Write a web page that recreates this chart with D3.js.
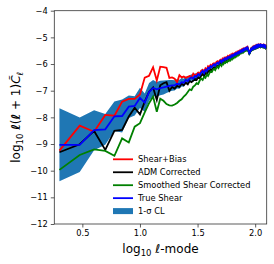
<!DOCTYPE html>
<html>
<head>
<meta charset="utf-8">
<script src="https://cdn.jsdelivr.net/npm/d3@7"></script>
<style>
  body { margin: 0; background: #fff; }
  text { font-family: "DejaVu Sans", sans-serif; fill: #000; }
</style>
</head>
<body>
<div id="chart"></div>
<script>
// multipoles l = 2 .. 126
const ells = d3.range(2, 127);

const shearBias = [
  -9.25, -8.31, -8.54, -7.91, -7.94, -7.41, -7.31, -7.31, -7.14, -6.51,
  -6.44, -6.12, -6.62, -6.10, -6.12, -6.14, -6.52, -6.50, -6.55, -6.68,
  -6.42, -6.50, -6.47, -6.52, -6.48, -6.45, -6.50, -6.36, -6.44, -6.38,
  -6.32, -6.36, -6.25, -6.22, -6.28, -6.16, -6.21, -6.08, -6.12, -6.03,
  -6.07, -5.99, -5.97, -6.01, -5.93, -5.90, -5.95, -5.87, -5.84, -5.88,
  -5.80, -5.84, -5.76, -5.79, -5.74, -5.77, -5.70, -5.73, -5.68, -5.71,
  -5.64, -5.68, -5.62, -5.65, -5.60, -5.62, -5.57, -5.60, -5.54, -5.57,
  -5.52, -5.55, -5.49, -5.52, -5.46, -5.49, -5.44, -5.47, -5.42, -5.44,
  -5.40, -5.43, -5.38, -5.41, -5.37, -5.44, -5.52, -5.58, -5.55, -5.48,
  -5.42, -5.44, -5.39, -5.41, -5.36, -5.39, -5.34, -5.37, -5.33, -5.36,
  -5.31, -5.34, -5.30, -5.33, -5.29, -5.32, -5.28, -5.31, -5.29, -5.32,
  -5.28, -5.31, -5.29, -5.32, -5.30, -5.33, -5.29, -5.32, -5.30, -5.34,
  -5.32, -5.36, -5.33, -5.37, -5.39
];

const admCorrected = [
  -9.31, -9.01, -8.51, -9.22, -8.51, -8.47, -7.97, -7.64, -7.89, -7.41,
  -7.04, -6.88, -7.35, -6.80, -6.72, -6.68, -7.00, -6.86, -6.92, -6.82,
  -6.86, -6.74, -6.80, -6.70, -6.76, -6.64, -6.68, -6.62, -6.56, -6.60,
  -6.50, -6.54, -6.44, -6.38, -6.46, -6.34, -6.38, -6.26, -6.29, -6.20,
  -6.23, -6.16, -6.12, -6.17, -6.09, -6.06, -6.10, -6.02, -5.98, -6.03,
  -5.95, -5.97, -5.89, -5.93, -5.87, -5.89, -5.82, -5.85, -5.79, -5.82,
  -5.74, -5.78, -5.72, -5.74, -5.68, -5.71, -5.65, -5.68, -5.62, -5.64,
  -5.59, -5.62, -5.56, -5.58, -5.52, -5.55, -5.50, -5.53, -5.47, -5.50,
  -5.45, -5.48, -5.43, -5.46, -5.42, -5.48, -5.56, -5.62, -5.59, -5.52,
  -5.46, -5.48, -5.43, -5.45, -5.40, -5.43, -5.38, -5.41, -5.37, -5.40,
  -5.35, -5.38, -5.33, -5.36, -5.32, -5.35, -5.31, -5.34, -5.32, -5.35,
  -5.31, -5.34, -5.32, -5.35, -5.33, -5.36, -5.32, -5.35, -5.33, -5.37,
  -5.35, -5.39, -5.36, -5.40, -5.42
];

const smoothedCorrected = [
  -9.97, -9.41, -9.20, -9.26, -9.44, -8.79, -8.94, -8.35, -8.22, -7.81,
  -7.47, -7.22, -7.79, -7.30, -7.38, -7.50, -7.55, -7.56, -7.52, -7.46,
  -7.38, -7.32, -7.22, -7.15, -7.05, -6.95, -6.98, -6.85, -6.80, -6.72,
  -6.75, -6.62, -6.55, -6.60, -6.48, -6.52, -6.40, -6.45, -6.35, -6.28,
  -6.30, -6.22, -6.18, -6.23, -6.14, -6.10, -6.15, -6.06, -6.02, -6.07,
  -5.98, -6.01, -5.93, -5.96, -5.90, -5.93, -5.86, -5.89, -5.83, -5.86,
  -5.78, -5.82, -5.75, -5.78, -5.71, -5.74, -5.68, -5.71, -5.64, -5.67,
  -5.61, -5.64, -5.58, -5.60, -5.54, -5.57, -5.52, -5.55, -5.48, -5.51,
  -5.46, -5.49, -5.44, -5.47, -5.42, -5.48, -5.56, -5.62, -5.59, -5.52,
  -5.46, -5.48, -5.43, -5.45, -5.40, -5.43, -5.38, -5.41, -5.37, -5.40,
  -5.35, -5.38, -5.33, -5.36, -5.32, -5.35, -5.31, -5.34, -5.32, -5.35,
  -5.31, -5.34, -5.32, -5.35, -5.33, -5.36, -5.32, -5.35, -5.33, -5.37,
  -5.35, -5.39, -5.36, -5.40, -5.42
];

const trueShear = [
  -9.03, -9.03, -8.48, -8.45, -7.96, -7.95, -7.60, -7.57, -7.27, -7.45,
  -7.05, -6.90, -6.95, -6.90, -6.88, -6.85, -6.82, -6.80, -6.80, -6.74,
  -6.76, -6.68, -6.70, -6.60, -6.64, -6.55, -6.50, -6.55, -6.45, -6.48,
  -6.38, -6.42, -6.32, -6.26, -6.34, -6.22, -6.26, -6.14, -6.17, -6.08,
  -6.12, -6.05, -6.01, -6.06, -5.98, -5.95, -6.00, -5.92, -5.88, -5.93,
  -5.85, -5.88, -5.80, -5.84, -5.78, -5.81, -5.74, -5.77, -5.72, -5.75,
  -5.68, -5.72, -5.66, -5.69, -5.63, -5.66, -5.60, -5.63, -5.57, -5.60,
  -5.55, -5.58, -5.52, -5.55, -5.49, -5.52, -5.47, -5.50, -5.44, -5.47,
  -5.42, -5.45, -5.40, -5.43, -5.39, -5.46, -5.54, -5.60, -5.57, -5.50,
  -5.44, -5.46, -5.41, -5.43, -5.38, -5.41, -5.36, -5.39, -5.35, -5.38,
  -5.33, -5.36, -5.31, -5.34, -5.30, -5.33, -5.29, -5.32, -5.30, -5.33,
  -5.29, -5.32, -5.30, -5.33, -5.31, -5.34, -5.30, -5.33, -5.31, -5.35,
  -5.33, -5.37, -5.34, -5.38, -5.40
];

// half width of the 1-sigma band around the true shear
const sigma = [
  1.37, 1.02, 0.75, 0.58, 0.55, 0.62, 0.42, 0.36, 0.38, 0.34,
  0.34, 0.30, 0.28, 0.27, 0.26, 0.24, 0.22, 0.20, 0.19, 0.18,
  0.17, 0.16, 0.15, 0.14, 0.14, 0.13, 0.12, 0.12, 0.11, 0.11,
  0.10, 0.10, 0.09, 0.09, 0.09, 0.08, 0.08, 0.08, 0.08, 0.07,
  0.07, 0.07, 0.07, 0.07, 0.06, 0.06, 0.06, 0.06, 0.06, 0.06,
  0.06, 0.05, 0.05, 0.05, 0.05, 0.05, 0.05, 0.05, 0.05, 0.05,
  0.05, 0.05, 0.05, 0.04, 0.04, 0.04, 0.04, 0.04, 0.04, 0.04,
  0.04, 0.04, 0.04, 0.04, 0.04, 0.04, 0.04, 0.04, 0.04, 0.04,
  0.04, 0.04, 0.04, 0.04, 0.04, 0.04, 0.04, 0.04, 0.04, 0.04,
  0.04, 0.04, 0.04, 0.04, 0.04, 0.03, 0.03, 0.03, 0.03, 0.03,
  0.03, 0.03, 0.03, 0.03, 0.03, 0.03, 0.03, 0.03, 0.03, 0.03,
  0.03, 0.03, 0.03, 0.03, 0.03, 0.03, 0.03, 0.03, 0.03, 0.03,
  0.03, 0.03, 0.03, 0.03, 0.03
];

const xTicks = [0.5, 1.0, 1.5, 2.0];
const yTicks = [-12, -11, -10, -9, -8, -7, -6, -5, -4];

const seriesList = [
  { name: "Shear+Bias", values: shearBias, color: "#ff0000" },
  { name: "ADM Corrected", values: admCorrected, color: "#000000" },
  { name: "Smoothed Shear Corrected", values: smoothedCorrected, color: "#008000" },
  { name: "True Shear", values: trueShear, color: "#0000ff" }
];

const width = 274;
const height = 264;
const margin = { top: 10.7, right: 7.3, bottom: 40, left: 54.3 };
const innerW = width - margin.left - margin.right;
const innerH = height - margin.top - margin.bottom;

const svg = d3
  .select("#chart")
  .append("svg")
  .attr("width", width)
  .attr("height", height);

const g = svg
  .append("g")
  .attr("transform", `translate(${margin.left},${margin.top})`);

const xScale = d3.scaleLinear().domain([0.2565, 2.1]).range([0, innerW]);
const yScale = d3.scaleLinear().domain([-12, -4]).range([innerH, 0]);

g.append("clipPath")
  .attr("id", "clip")
  .append("rect")
  .attr("width", innerW)
  .attr("height", innerH);

const plot = g.append("g").attr("clip-path", "url(#clip)");

// band first, lines on top
const area = d3
  .area()
  .x((d, i) => xScale(Math.log10(ells[i])))
  .y0((d, i) => yScale(trueShear[i] - d))
  .y1((d, i) => yScale(trueShear[i] + d));

plot
  .append("path")
  .datum(sigma)
  .attr("fill", "#1f77b4")
  .attr("d", area);

const line = d3
  .line()
  .x((d, i) => xScale(Math.log10(ells[i])))
  .y((d) => yScale(d));

plot
  .selectAll(".series")
  .data(seriesList)
  .enter()
  .append("path")
  .attr("class", "series")
  .attr("fill", "none")
  .attr("stroke", (d) => d.color)
  .attr("stroke-width", 1.8)
  .attr("stroke-linejoin", "miter")
  .attr("d", (d) => line(d.values));

// axes
const xAxis = g
  .append("g")
  .attr("transform", `translate(0,${innerH})`)
  .call(d3.axisBottom(xScale).tickValues(xTicks).tickFormat(d3.format(".1f")).tickSize(3.5).tickPadding(3));

const yAxis = g
  .append("g")
  .call(d3.axisLeft(yScale).tickValues(yTicks).tickFormat((d) => "\u2212" + Math.abs(d)).tickSize(3.5).tickPadding(3));

[xAxis, yAxis].forEach((ax) => {
  ax.select(".domain").remove();
  ax.selectAll("line").attr("stroke", "#333").attr("stroke-width", 0.8);
  ax.selectAll("text").attr("font-size", "8.3px").attr("font-family", "DejaVu Sans").attr("fill", "#000");
});

// frame
g.append("rect")
  .attr("width", innerW)
  .attr("height", innerH)
  .attr("fill", "none")
  .attr("stroke", "#333")
  .attr("stroke-width", 0.8);

// legend
const legend = g
  .selectAll(".legend-item")
  .data(seriesList.concat([{ name: "1-\u03c3 CL", band: true, color: "#1f77b4" }]))
  .enter()
  .append("g")
  .attr("class", "legend-item")
  .attr("transform", (d, i) => `translate(${113 - margin.left},${159.3 - margin.top + i * 12.95})`);

legend
  .filter((d) => !d.band)
  .append("line")
  .attr("x1", 0)
  .attr("x2", 20)
  .attr("stroke", (d) => d.color)
  .attr("stroke-width", 1.8);

legend
  .filter((d) => d.band)
  .append("rect")
  .attr("x", 0)
  .attr("y", -3)
  .attr("width", 20)
  .attr("height", 6)
  .attr("fill", (d) => d.color);

legend
  .append("text")
  .attr("x", 25)
  .attr("y", 3)
  .attr("font-size", "8.3px")
  .text((d) => d.name);

// x label
const xLabel = svg
  .append("text")
  .attr("x", margin.left + innerW / 2)
  .attr("y", 253)
  .attr("text-anchor", "middle")
  .attr("font-size", "12px");
xLabel.append("tspan").text("log");
xLabel.append("tspan").attr("font-size", "8.5px").attr("dy", 3).text("10");
xLabel.append("tspan").attr("dy", -3).text(" ");
xLabel.append("tspan").attr("font-style", "italic").text("\u2113");
xLabel.append("tspan").text("-mode");

// y label
const yLabel = svg
  .append("text")
  .attr("transform", `translate(20,${margin.top + innerH / 2}) rotate(-90)`)
  .attr("text-anchor", "middle")
  .attr("font-size", "12px");
yLabel.append("tspan").text("log");
yLabel.append("tspan").attr("font-size", "8.5px").attr("dy", 3).text("10");
yLabel.append("tspan").attr("dy", -3).text(" ");
yLabel.append("tspan").attr("font-style", "italic").attr("font-weight", "bold").text("\u2113");
yLabel.append("tspan").text("(");
yLabel.append("tspan").attr("font-style", "italic").attr("font-weight", "bold").text("\u2113");
yLabel.append("tspan").text(" + 1)");
yLabel.append("tspan").attr("font-style", "italic").text("C\u0303");
yLabel.append("tspan").attr("font-size", "8.5px").attr("font-style", "italic").attr("dy", 3).text("\u2113");
</script>
</body>
</html>
